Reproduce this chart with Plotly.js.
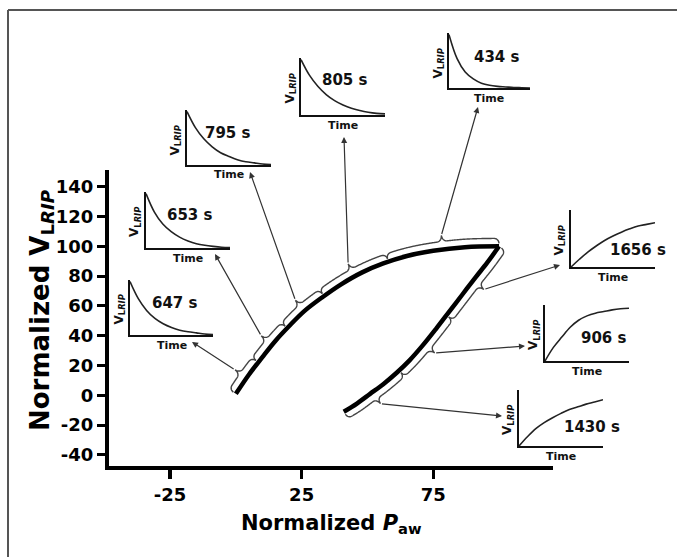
<!DOCTYPE html>
<html><head><meta charset="utf-8">
<script src="https://cdn.plot.ly/plotly-3.0.1.min.js"></script>
<style>html,body{margin:0;padding:0;background:#fff;}#chart{width:677px;height:557px;}</style>
</head><body><div id="chart"></div>
<script>
// ---------------- data ----------------
const xTickVals = [-25, 25, 75];
const yTickVals = [-40, -20, 0, 20, 40, 60, 80, 100, 120, 140];

// main loop (normalized Paw vs normalized VLRIP)
const upperX = [0, 5, 10, 15, 20, 26, 33, 40, 48, 56, 65, 75, 87, 100];
const upperY = [1, 14, 25.5, 36.5, 46, 56.5, 66, 74.5, 82.5, 88.5, 93.5, 97, 99.4, 100];
const lowerX = [41, 46, 51, 56, 61, 66, 71, 76, 81, 86, 91, 95.5, 100];
const lowerY = [-11, -5.5, 1, 7.5, 15, 23.5, 33.5, 44.5, 56, 67.5, 79, 89, 100];

// bracket limits along each limb (normalized Paw)
const upperBraceBreaks = [0, 8.5, 19.5, 33.5, 58, 100];
const lowerBraceBreaks = [41, 62, 80, 100];

// inset time courses
const insetLabels = ['647 s', '653 s', '795 s', '805 s', '434 s', '1656 s', '906 s', '1430 s'];
const insetTime = [0, 0.1, 0.2, 0.3, 0.4, 0.5, 0.6, 0.7, 0.8, 0.9, 1];
const decay647  = [1, 0.68, 0.46, 0.31, 0.21, 0.14, 0.09, 0.06, 0.04, 0.02, 0.01];
const decay653  = [1, 0.66, 0.44, 0.30, 0.20, 0.13, 0.08, 0.05, 0.03, 0.015, 0.01];
const decay795  = [1, 0.70, 0.49, 0.34, 0.23, 0.16, 0.10, 0.06, 0.04, 0.02, 0.01];
const decay805  = [1, 0.72, 0.52, 0.37, 0.26, 0.18, 0.12, 0.08, 0.05, 0.03, 0.02];
const decay434  = [1, 0.55, 0.30, 0.17, 0.09, 0.05, 0.03, 0.02, 0.01, 0.005, 0];
const rise1656  = [0, 0.14, 0.27, 0.38, 0.48, 0.56, 0.63, 0.69, 0.74, 0.77, 0.80];
const rise906   = [0, 0.25, 0.44, 0.62, 0.75, 0.83, 0.88, 0.91, 0.94, 0.96, 0.97];
const rise1430  = [0, 0.17, 0.32, 0.43, 0.52, 0.60, 0.67, 0.72, 0.77, 0.81, 0.85];
const insetSeries = [decay647, decay653, decay795, decay805, decay434, rise1656, rise906, rise1430];

// ---------------- layout geometry ----------------
const W = 677, H = 557;
const FONT = 'DejaVu Sans';
const MAIN = {x0: 109, x1: 553, y0: 170, y1: 466};
const xRange = [-48.2, 120.5];
const yRange = [-47.4, 151.2];
const pX = p => p / W;
const pY = p => 1 - p / H;
const d2px = x => MAIN.x0 + (x - xRange[0]) / (xRange[1] - xRange[0]) * (MAIN.x1 - MAIN.x0);
const d2py = y => MAIN.y1 - (y - yRange[0]) / (yRange[1] - yRange[0]) * (MAIN.y1 - MAIN.y0);
const px2d = p => xRange[0] + (p - MAIN.x0) / (MAIN.x1 - MAIN.x0) * (xRange[1] - xRange[0]);
const py2d = p => yRange[0] + (MAIN.y1 - p) / (MAIN.y1 - MAIN.y0) * (yRange[1] - yRange[0]);

// inset boxes [x0,x1,y0,y1] px, label rel position, arrow head px
const insetGeom = [
  {box: [130, 213, 280, 335], lab: [0.54, 0.58], head: [192, 342]},
  {box: [146, 230, 192, 248], lab: [0.52, 0.59], head: [215, 254]},
  {box: [187, 271, 110, 165], lab: [0.49, 0.58], head: [250, 172]},
  {box: [301, 385, 58, 115],  lab: [0.52, 0.61], head: [344, 137]},
  {box: [449, 530, 33, 88],   lab: [0.59, 0.56], head: [478, 107]},
  {box: [571, 655, 210, 267], lab: [0.80, 0.30], head: [560, 265]},
  {box: [545, 629, 305, 361], lab: [0.70, 0.41], head: [525, 346]},
  {box: [519, 603, 390, 446], lab: [0.87, 0.34], head: [502, 416]}
];
const upperBraceInset = [0, 1, 2, 3, 4];
const lowerBraceInset = [7, 6, 5];

// ---------------- bracket geometry ----------------
function densify(xs, ys) {
  const P = xs.map((x, i) => [d2px(x), d2py(ys[i])]);
  const out = [];
  for (let i = 0; i < P.length - 1; i++) {
    const p0 = P[Math.max(i - 1, 0)], p1 = P[i], p2 = P[i + 1], p3 = P[Math.min(i + 2, P.length - 1)];
    for (let k = 0; k < 30; k++) {
      const t = k / 30, t2 = t * t, t3 = t2 * t;
      const c = j => 0.5 * ((2 * p1[j]) + (-p0[j] + p2[j]) * t + (2 * p0[j] - 5 * p1[j] + 4 * p2[j] - p3[j]) * t2 + (-p0[j] + 3 * p1[j] - 3 * p2[j] + p3[j]) * t3);
      out.push([c(0), c(1)]);
    }
  }
  out.push(P[P.length - 1].slice());
  let s = 0; out[0][2] = 0;
  for (let i = 1; i < out.length; i++) { s += Math.hypot(out[i][0] - out[i - 1][0], out[i][1] - out[i - 1][1]); out[i][2] = s; }
  return out;
}
function pointAt(D, s) {
  let i = 0;
  while (i < D.length - 2 && D[i + 1][2] < s) i++;
  const a = D[i], b = D[i + 1];
  const f = (b[2] - a[2]) > 0 ? (s - a[2]) / (b[2] - a[2]) : 0;
  const dx = b[0] - a[0], dy = b[1] - a[1], L = Math.hypot(dx, dy) || 1;
  return {x: a[0] + f * dx, y: a[1] + f * dy, nx: dy / L, ny: -dx / L};
}
function sAtX(D, xData) {
  const px = d2px(xData);
  if (px <= D[0][0]) return 0;
  for (let i = 0; i < D.length - 1; i++) {
    if (D[i][0] <= px && px <= D[i + 1][0]) {
      const f = (px - D[i][0]) / ((D[i + 1][0] - D[i][0]) || 1);
      return D[i][2] + f * (D[i + 1][2] - D[i][2]);
    }
  }
  return D[D.length - 1][2];
}
function brace(D, s0, s1, side) {
  const e = 3, h = 8, t = 14, r = 5;
  const sTip = (s0 + s1) / 2;
  const ss = [];
  for (let s = s0; s < s1; s += 0.5) ss.push(s);
  ss.push(s1); ss.push(sTip); ss.sort((a, b) => a - b);
  const pts = ss.map(s => {
    let off = h;
    const d0 = s - s0, d1 = s1 - s;
    if (d0 < r) { const u = d0 / r; off = e + (h - e) * Math.sqrt(1 - (1 - u) * (1 - u)); }
    else if (d1 < r) { const u = d1 / r; off = e + (h - e) * Math.sqrt(1 - (1 - u) * (1 - u)); }
    const v = Math.abs(s - sTip) / r;
    if (v < 1) off += (t - h) * (1 - Math.sqrt(Math.max(0, 1 - (1 - v) * (1 - v))));
    const p = pointAt(D, s);
    return [p.x + side * off * p.nx, p.y + side * off * p.ny];
  });
  const p = pointAt(D, sTip);
  return {pts, tip: [p.x + side * t * p.nx, p.y + side * t * p.ny]};
}

const shapes = [];
const annotations = [];
const tips = [];
function addBraces(xs, ys, breaks, side, insetIdx) {
  const D = densify(xs, ys);
  for (let i = 0; i < breaks.length - 1; i++) {
    const b = brace(D, sAtX(D, breaks[i]), sAtX(D, breaks[i + 1]), side);
    const path = b.pts.map((q, k) => (k ? 'L' : 'M') + px2d(q[0]).toFixed(3) + ',' + py2d(q[1]).toFixed(3)).join(' ');
    shapes.push({type: 'path', xref: 'x', yref: 'y', path, line: {color: '#444', width: 1.4}});
    tips[insetIdx[i]] = b.tip;
  }
}
addBraces(upperX, upperY, upperBraceBreaks, 1, upperBraceInset);
addBraces(lowerX, lowerY, lowerBraceBreaks, -1, lowerBraceInset);

// ---------------- traces ----------------
const traces = [
  {x: upperX, y: upperY, mode: 'lines', line: {color: '#000', width: 4.5, shape: 'spline'}, hoverinfo: 'skip', xaxis: 'x', yaxis: 'y'},
  {x: lowerX, y: lowerY, mode: 'lines', line: {color: '#000', width: 4.5, shape: 'spline'}, hoverinfo: 'skip', xaxis: 'x', yaxis: 'y'}
];

const layout = {
  width: W, height: H,
  margin: {l: 0, r: 0, t: 0, b: 0},
  paper_bgcolor: '#fff', plot_bgcolor: 'rgba(0,0,0,0)',
  showlegend: false,
  font: {family: FONT, color: '#111'},
  xaxis: {
    domain: [pX(MAIN.x0), pX(MAIN.x1)], range: xRange, anchor: 'y',
    showline: true, linewidth: 4, linecolor: '#000', showgrid: false, zeroline: false,
    ticks: 'outside', ticklen: 9, tickwidth: 3.5, tickcolor: '#000',
    tickvals: xTickVals, ticktext: xTickVals.map(String),
    tickfont: {family: FONT, size: 18, color: '#000', weight: 700}, fixedrange: true
  },
  yaxis: {
    domain: [pY(MAIN.y1), pY(MAIN.y0)], range: yRange, anchor: 'x',
    showline: true, linewidth: 4, linecolor: '#000', showgrid: false, zeroline: false,
    ticks: 'outside', ticklen: 8, tickwidth: 3, tickcolor: '#000',
    tickvals: yTickVals, ticktext: yTickVals.map(String),
    tickfont: {family: FONT, size: 18, color: '#000', weight: 700}, fixedrange: true
  },
  shapes: shapes,
  annotations: annotations
};

// frame
shapes.push({type: 'line', xref: 'paper', yref: 'paper', x0: pX(8), x1: pX(8), y0: pY(10), y1: 0, line: {color: '#555', width: 2}});
shapes.push({type: 'line', xref: 'paper', yref: 'paper', x0: pX(8), x1: 1, y0: pY(10), y1: pY(10), line: {color: '#555', width: 2}});

// axis titles
annotations.push({xref: 'paper', yref: 'paper', x: pX(331), y: pY(524), xanchor: 'center', yanchor: 'middle', showarrow: false,
  text: '<b>Normalized <i>P</i><sub>aw</sub></b>', font: {family: FONT, size: 21, color: '#000'}});
annotations.push({xref: 'paper', yref: 'paper', x: pX(41), y: pY(310), xanchor: 'center', yanchor: 'middle', showarrow: false, textangle: -90,
  text: '<b>Normalized V<sub>L<i>RIP</i></sub></b>', font: {family: FONT, size: 26, color: '#000'}});

// insets
insetGeom.forEach((g, i) => {
  const n = i + 2;
  const [bx0, bx1, by0, by1] = g.box;
  layout['xaxis' + n] = {domain: [pX(bx0), pX(bx1)], range: [0, 1], anchor: 'y' + n, showline: true, linewidth: 2, linecolor: '#111',
    showgrid: false, zeroline: false, showticklabels: false, ticks: '', fixedrange: true};
  layout['yaxis' + n] = {domain: [pY(by1), pY(by0)], range: [0, 1.03], anchor: 'x' + n, showline: true, linewidth: 2, linecolor: '#111',
    showgrid: false, zeroline: false, showticklabels: false, ticks: '', fixedrange: true};
  traces.push({x: insetTime, y: insetSeries[i], mode: 'lines', line: {color: '#222', width: 1.6, shape: 'spline'},
    hoverinfo: 'skip', xaxis: 'x' + n, yaxis: 'y' + n});
  annotations.push({xref: 'paper', yref: 'paper', x: pX(bx0 + g.lab[0] * (bx1 - bx0)), y: pY(by1 - g.lab[1] * (by1 - by0)),
    xanchor: 'center', yanchor: 'middle', showarrow: false, text: '<b>' + insetLabels[i] + '</b>', font: {family: FONT, size: 15, color: '#111'}});
  annotations.push({xref: 'paper', yref: 'paper', x: pX((bx0 + bx1) / 2), y: pY(by1 + 10), xanchor: 'center', yanchor: 'middle', showarrow: false,
    text: '<b>Time</b>', font: {family: FONT, size: 11, color: '#111'}});
  annotations.push({xref: 'paper', yref: 'paper', x: pX(bx0 - 11), y: pY((by0 + by1) / 2 + 2), xanchor: 'center', yanchor: 'middle', showarrow: false,
    textangle: -90, text: '<b>V<sub>L<i>RIP</i></sub></b>', font: {family: FONT, size: 12, color: '#111'}});
  const tip = tips[i];
  annotations.push({xref: 'paper', yref: 'paper', x: pX(g.head[0]), y: pY(g.head[1]), axref: 'pixel', ayref: 'pixel',
    ax: tip[0] - g.head[0], ay: tip[1] - g.head[1], showarrow: true, arrowhead: 2, arrowsize: 1, arrowwidth: 1.2,
    arrowcolor: '#333', text: '', standoff: 0});
});

Plotly.newPlot('chart', traces, layout, {displayModeBar: false, staticPlot: true});
</script>
</body></html>
